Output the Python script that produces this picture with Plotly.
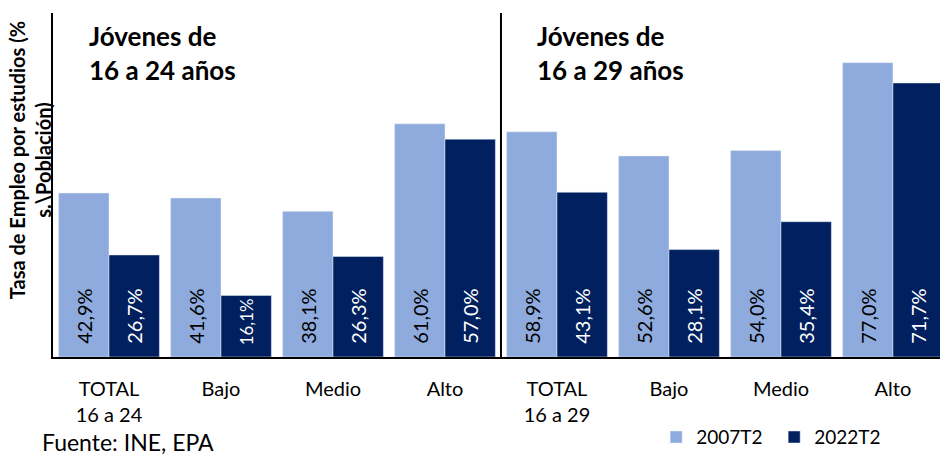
import plotly.graph_objects as go

# categories (two age groups, four levels each)
categorias = ["TOTAL<br>16 a 24", "Bajo", "Medio", "Alto",
              "TOTAL<br>16 a 29", "Bajo", "Medio", "Alto"]
tasa_2007 = [42.9, 41.6, 38.1, 61.0, 58.9, 52.6, 54.0, 77.0]
tasa_2022 = [26.7, 16.1, 26.3, 57.0, 43.1, 28.1, 35.4, 71.7]
posiciones = list(range(len(categorias)))

FONT = "Lato"
claro = "#8FAADC"
oscuro = "#002060"


def etiqueta(v):
    # leading non-breaking spaces lift the label off the axis
    return "\u00a0\u00a0" + f"{v:.1f}%".replace(".", ",")


fig = go.Figure()
fig.add_trace(go.Bar(x=posiciones, y=tasa_2007, name="2007T2", marker_color=claro,
                     text=[etiqueta(v) for v in tasa_2007], textposition="inside",
                     insidetextanchor="start", textangle=-90,
                     textfont=dict(color="black", size=20, family=FONT)))
fig.add_trace(go.Bar(x=posiciones, y=tasa_2022, name="2022T2", marker_color=oscuro,
                     text=[etiqueta(v) for v in tasa_2022], textposition="inside",
                     insidetextanchor="start", textangle=-90,
                     textfont=dict(color="white", size=20, family=FONT)))

fig.update_layout(
    width=940, height=458,
    margin=dict(l=53, r=0, t=13, b=101, autoexpand=False),
    plot_bgcolor="white", paper_bgcolor="white",
    barmode="group", bargap=0.1, bargroupgap=0,
    font=dict(family=FONT, size=19, color="black"),
    showlegend=True,
    legend=dict(orientation="h", x=0.68, y=-0.233, xanchor="left", yanchor="middle",
                font=dict(size=19), itemwidth=30, entrywidth=73),
    uniformtext=dict(mode=False),
)
fig.update_xaxes(tickvals=posiciones, ticktext=categorias, range=[-0.5, 7.42],
                 showline=True, linecolor="black", linewidth=2, ticks="",
                 showgrid=False, tickfont=dict(size=20), ticklabelstandoff=13)
fig.update_yaxes(range=[0, 90], showticklabels=False, showgrid=False, zeroline=False,
                 showline=True, linecolor="black", linewidth=2, ticks="")

# separator between age groups
fig.add_shape(type="line", xref="x", yref="paper", x0=3.5, x1=3.5, y0=0, y1=1,
              line=dict(color="black", width=2))

fig.add_annotation(text="<b>Jóvenes de<br>16 a 24 años</b>", xref="paper", yref="paper",
                   x=0.038, y=0.985, xanchor="left", yanchor="top", align="left",
                   showarrow=False, font=dict(size=26))
fig.add_annotation(text="<b>Jóvenes de<br>16 a 29 años</b>", xref="paper", yref="paper",
                   x=0.543, y=0.985, xanchor="left", yanchor="top", align="left",
                   showarrow=False, font=dict(size=26))
fig.add_annotation(text="<b>Tasa de Empleo por estudios (%<br>s.\\Población)</b>",
                   xref="paper", yref="paper", x=-0.0255, y=0.573, textangle=-90,
                   xanchor="center", yanchor="middle",
                   showarrow=False, font=dict(size=20))
fig.add_annotation(text="Fuente: INE, EPA", xref="paper", yref="paper",
                   x=-0.015, y=-0.2936, xanchor="left", yanchor="bottom",
                   showarrow=False, font=dict(size=23))

fig.write_html("out.html", config={"displayModeBar": False},
               post_script="document.body.style.margin='0';")
